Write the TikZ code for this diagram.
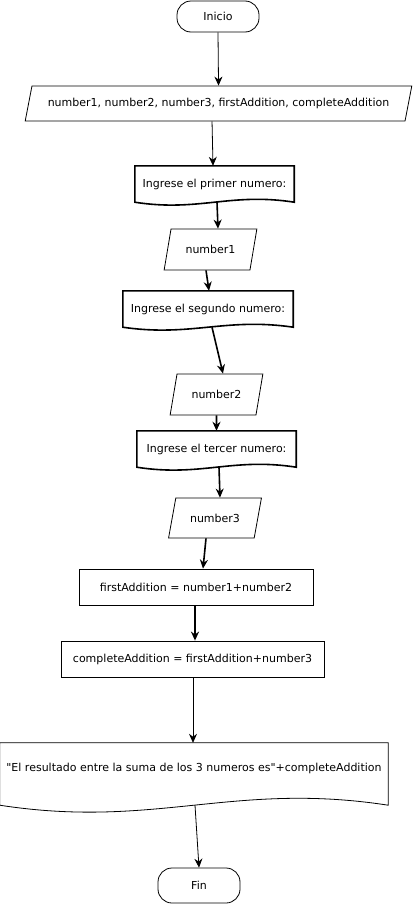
\documentclass[tikz,border=0pt]{standalone}
\usepackage{fontspec}
\setmainfont[Ligatures=TeXOff]{DejaVu Sans}
\usetikzlibrary{positioning,calc}
\usetikzlibrary{arrows.meta}
\usetikzlibrary{shapes.geometric}

\newcommand{\docshape}[3][]{%
   \draw[#1] (#2.south west) -- (#2.north west) -- (#2.north east) -- (#2.south east)
      .. controls ($(#2.south east)!0.4!(#2.south west)+(0,-#3)$)
      and ($(#2.south west)!0.4!(#2.south east)+(0,#3)$) .. (#2.south west) -- cycle;}

\begin{document}
\begin{tikzpicture}[x=1pt,y=-1pt,on grid,
      font=\fontsize{11pt}{13pt}\selectfont,
      terminal/.style={draw,rounded corners=14pt,minimum width=82pt,
         minimum height=31pt,line width=0.8pt},
      io/.style={draw,trapezium,trapezium stretches=true,
         trapezium left angle=72,trapezium right angle=108,
         minimum width=93pt,minimum height=41pt,line width=0.8pt},
      docbox/.style={minimum height=36pt,inner sep=0pt},
      process/.style={draw,minimum height=36pt,line width=0.8pt},
      flow/.style={-{Stealth[length=9pt,width=8pt]},line width=0.8pt},
      thickflow/.style={flow,line width=1.6pt}]
      \useasboundingbox (0,0) rectangle (413,905);

         \node[terminal] (start) at (218,16.5) {Inicio};
         \node[io,trapezium left angle=70,trapezium right angle=110,
            minimum width=388pt,minimum height=35pt,
            below right=87pt and 0.5pt of start] (vars)
            {number1, number2, number3, firstAddition, completeAddition};

         \node[docbox,minimum width=159pt,below left=80.5pt and 4pt of vars] (doc1)
            {Ingrese el primer numero:};
         \node[io,below left=65.5pt and 4pt of doc1] (num1) {number1};

         \node[docbox,minimum width=170pt,below left=59.5pt and 2.5pt of num1] (doc2)
            {Ingrese el segundo numero:};
         \node[io,below right=85.5pt and 8.5pt of doc2] (num2) {number2};

         \node[docbox,minimum width=159pt,below=54.5pt of num2] (doc3)
            {Ingrese el tercer numero:};
         \node[io,trapezium left angle=71,trapezium right angle=109,
            minimum height=40pt,below left=69pt and 1.5pt of doc3] (num3) {number3};

         \node[process,minimum width=234pt,below left=69pt and 19pt of num3] (add1)
            {firstAddition = number1+number2};
         \node[process,minimum width=263pt,below left=72pt and 3.5pt of add1] (add2)
            {completeAddition = firstAddition+number3};

         \node[docbox,minimum width=388pt,minimum height=62pt,text depth=14pt,
            below right=115pt and 1.5pt of add2] (out)
            {"El resultado entre la suma de los 3 numeros es"+completeAddition};
         \node[terminal,minimum height=35pt,below right=111.5pt and 5pt of out] (fin) {Fin};

         \docshape[line width=1.6pt]{doc1}{10}
         \docshape[line width=1.6pt]{doc2}{10}
         \docshape[line width=1.6pt]{doc3}{10}
         \docshape[line width=0.8pt]{out}{24}

         \draw[flow] (start.south) -- (vars.north);
         \draw[flow] ([xshift=-6.5pt]vars.south) -- ([xshift=-1.5pt]doc1.north);
         \draw[thickflow] ([xshift=2.5pt]doc1.south) -- ([xshift=7.5pt]num1.north);
         \draw[thickflow] ([xshift=-4.5pt]num1.south) -- ([xshift=1pt]doc2.north);
         \draw[thickflow] ([xshift=4pt]doc2.south) -- ([xshift=6.5pt]num2.north);
         \draw[thickflow] (num2.south) -- (doc3.north);
         \draw[thickflow] ([xshift=2.5pt]doc3.south) -- ([xshift=5pt]num3.north);
         \draw[thickflow] ([xshift=-9pt]num3.south) -- ([xshift=7pt]add1.north);
         \draw[thickflow] ([xshift=-1pt]add1.south) -- ([xshift=2.5pt]add2.north);
         \draw[flow] ([xshift=0.5pt]add2.south) -- ([xshift=-1pt]out.north);
         \draw[flow] ([xshift=1pt]out.south) -- (fin.north);
\end{tikzpicture}
\end{document}
